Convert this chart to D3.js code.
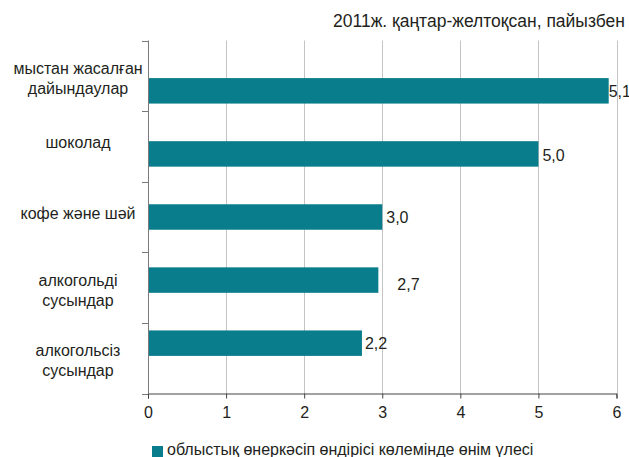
<!DOCTYPE html>
<html>
<head>
<meta charset="utf-8">
<script src="https://cdn.jsdelivr.net/npm/d3@7"></script>
<style>
  body { margin: 0; background: #fff; }
  text { font-family: "Liberation Sans", Arial, sans-serif; fill: #231f20; }
</style>
</head>
<body>
<script>
// categories (each entry is the lines of the label)
var categories = [
    ["мыстан жасалған", "дайындаулар"],
    ["шоколад"],
    ["кофе және шәй"],
    ["алкогольді", "сусындар"],
    ["алкогольсіз", "сусындар"]
];
// bar lengths as drawn in the picture
var barValues = [5.9, 5.0, 3.0, 2.95, 2.74];
// value labels as printed
var valueLabels = ["5,1", "5,0", "3,0", "2,7", "2,2"];
var xTicks = [0, 1, 2, 3, 4, 5, 6];
var title = "2011ж. қаңтар-желтоқсан, пайызбен";
var legendLabel = "облыстық өнеркәсіп өндірісі көлемінде өнім үлесі";

// small hand nudges of the value labels (layout only)
var labelDx = [-4, 0, 0, 15, -1];
var labelDy = [0, 1, 0, 4, 0];

var width = 629, height = 457;
var plotLeft = 148, plotRight = 616.5, plotTop = 40.5, plotBottom = 393.5;
var barColor = "#0a7d8c";

var svg = d3.select("body").append("svg")
    .attr("width", width)
    .attr("height", height);

var x = d3.scaleLinear().domain([0, 6]).range([plotLeft, plotRight]);
var y = d3.scaleBand()
    .domain(d3.range(categories.length))
    .range([plotTop, plotBottom])
    .padding(0.596);
var band = d3.scaleBand().domain(d3.range(categories.length)).range([plotTop, plotBottom]);

// title
svg.append("text")
    .attr("x", 625)
    .attr("y", 27)
    .attr("text-anchor", "end")
    .style("font-size", "17.5px")
    .text(title);

// vertical gridlines
svg.append("g").selectAll("line")
    .data(xTicks.slice(1))
    .join("line")
    .attr("x1", d => Math.round(x(d)) + 0.5)
    .attr("x2", d => Math.round(x(d)) + 0.5)
    .attr("y1", plotTop)
    .attr("y2", plotBottom)
    .attr("stroke", "#c4c4c4")
    .attr("stroke-width", 1);

// bars
svg.append("g").selectAll("rect")
    .data(barValues)
    .join("rect")
    .attr("x", x(0))
    .attr("y", (d, i) => y(i))
    .attr("width", d => x(d) - x(0))
    .attr("height", y.bandwidth())
    .attr("fill", barColor);

// value labels
svg.append("g").selectAll("text")
    .data(valueLabels)
    .join("text")
    .attr("x", (d, i) => x(barValues[i]) + 4 + labelDx[i])
    .attr("y", (d, i) => y(i) + y.bandwidth() / 2 + 6 + labelDy[i])
    .style("font-size", "16px")
    .text(d => d);

// left axis
var yAxis = svg.append("g");
yAxis.append("line")
    .attr("x1", plotLeft + 0.5).attr("x2", plotLeft + 0.5)
    .attr("y1", plotTop).attr("y2", plotBottom)
    .attr("stroke", "#7a7a7a");
yAxis.selectAll("line.tick")
    .data(d3.range(categories.length + 1))
    .join("line")
    .attr("class", "tick")
    .attr("x1", plotLeft - 6).attr("x2", plotLeft)
    .attr("y1", i => Math.round(plotTop + i * band.step()) + 0.5)
    .attr("y2", i => Math.round(plotTop + i * band.step()) + 0.5)
    .attr("stroke", "#7a7a7a");

// category labels
var catText = svg.append("g").selectAll("text")
    .data(categories)
    .join("text")
    .attr("text-anchor", "middle")
    .style("font-size", "16px")
    .attr("transform", (d, i) => {
        var c = band(i) + band.bandwidth() / 2;
        var yy = d.length > 1 ? c - 2 : c + 2;
        return "translate(78," + yy + ")";
    });
catText.selectAll("tspan")
    .data(d => d)
    .join("tspan")
    .attr("x", 0)
    .attr("y", (d, j) => j * 20)
    .text(d => d);

// bottom axis
var xAxis = svg.append("g")
    .attr("transform", "translate(0," + plotBottom + ")")
    .call(d3.axisBottom(x).tickValues(xTicks).tickSize(5).tickPadding(8).tickFormat(d3.format("d")));
xAxis.select(".domain").attr("stroke", "#444");
xAxis.selectAll(".tick line").attr("stroke", "#444");
xAxis.selectAll(".tick text")
    .style("font-size", "16px")
    .style("font-family", "'Liberation Sans', Arial, sans-serif")
    .attr("fill", "#231f20");

// legend
svg.append("rect")
    .attr("x", 152)
    .attr("y", 446)
    .attr("width", 11)
    .attr("height", 11)
    .attr("fill", barColor);
svg.append("text")
    .attr("x", 167)
    .attr("y", 455)
    .style("font-size", "16px")
    .text(legendLabel);
</script>
</body>
</html>
